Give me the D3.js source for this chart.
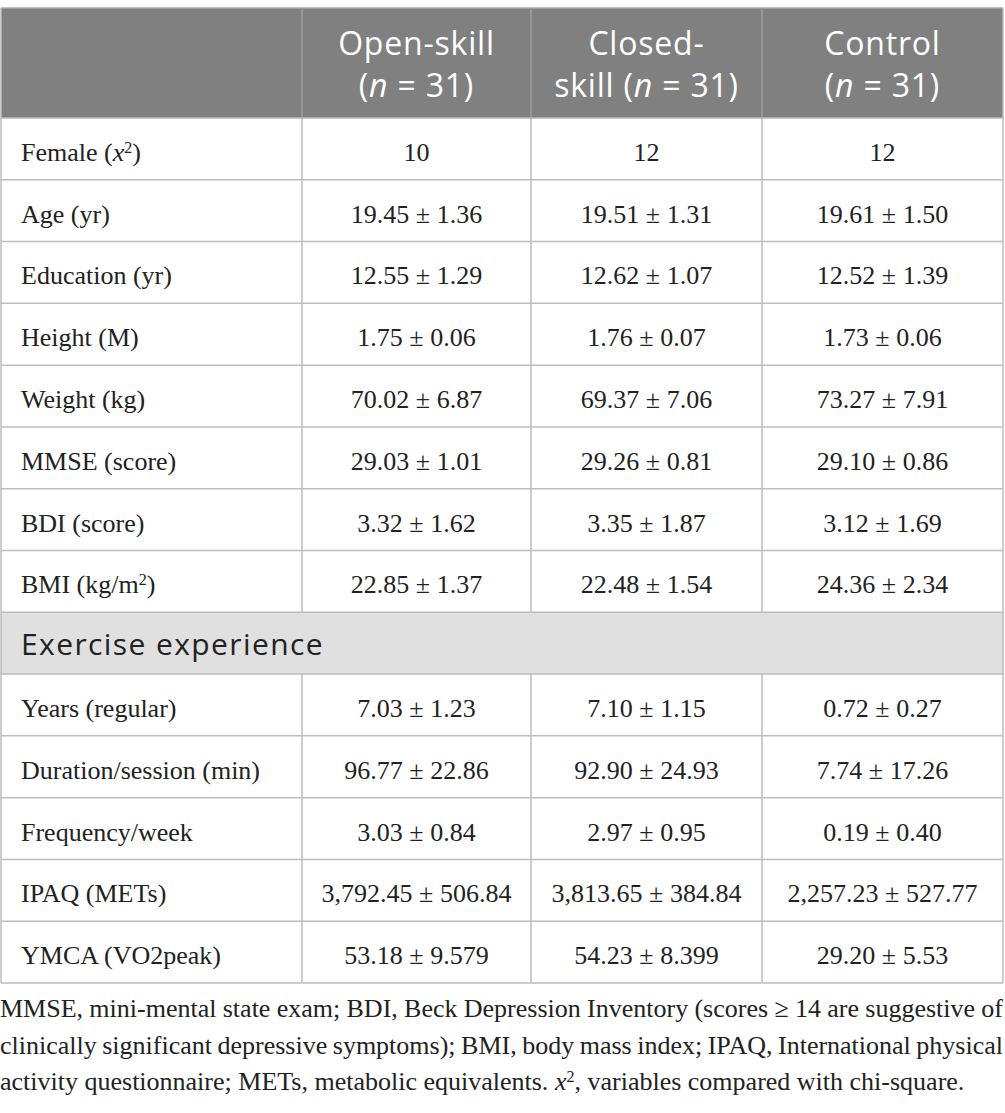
<!DOCTYPE html>
<html>
<head>
<meta charset="utf-8">
<style>
  body { margin: 0; background: #ffffff; }
  svg { display: block; }
</style>
</head>
<body>
<div id="chart"></div>
<script src="https://d3js.org/d3.v7.min.js"></script>
<script>
// Column headers (each one is two lines, <i> marks italic)
var headers = [
    ["Open-skill", "(<i>n</i> = 31)"],
    ["Closed-", "skill (<i>n</i> = 31)"],
    ["Control", "(<i>n</i> = 31)"]
];

// Row labels (rows with null values are section headers)
var variables = [
    "Female (<i>x</i><sup>2</sup>)", "Age (yr)", "Education (yr)", "Height (M)",
    "Weight (kg)", "MMSE (score)", "BDI (score)", "BMI (kg/m<sup>2</sup>)",
    "Exercise experience",
    "Years (regular)", "Duration/session (min)", "Frequency/week",
    "IPAQ (METs)", "YMCA (VO2peak)"
];

var openSkill = ["10", "19.45 ± 1.36", "12.55 ± 1.29", "1.75 ± 0.06", "70.02 ± 6.87",
    "29.03 ± 1.01", "3.32 ± 1.62", "22.85 ± 1.37", null,
    "7.03 ± 1.23", "96.77 ± 22.86", "3.03 ± 0.84", "3,792.45 ± 506.84", "53.18 ± 9.579"];

var closedSkill = ["12", "19.51 ± 1.31", "12.62 ± 1.07", "1.76 ± 0.07", "69.37 ± 7.06",
    "29.26 ± 0.81", "3.35 ± 1.87", "22.48 ± 1.54", null,
    "7.10 ± 1.15", "92.90 ± 24.93", "2.97 ± 0.95", "3,813.65 ± 384.84", "54.23 ± 8.399"];

var control = ["12", "19.61 ± 1.50", "12.52 ± 1.39", "1.73 ± 0.06", "73.27 ± 7.91",
    "29.10 ± 0.86", "3.12 ± 1.69", "24.36 ± 2.34", null,
    "0.72 ± 0.27", "7.74 ± 17.26", "0.19 ± 0.40", "2,257.23 ± 527.77", "29.20 ± 5.53"];

var footnote = [
    "MMSE, mini-mental state exam; BDI, Beck Depression Inventory (scores ≥ 14 are suggestive of",
    "clinically significant depressive symptoms); BMI, body mass index; IPAQ, International physical",
    "activity questionnaire; METs, metabolic equivalents. <i>x</i><sup>2</sup>, variables compared with chi-square."
];

var width = 1005, height = 1113;
var serif = "'Liberation Serif', 'Times New Roman', serif";
var sans = "'Open Sans', Lato, sans-serif";
var lineColor = "#bdbdbd";

var svg = d3.select("#chart")
    .append("svg")
    .attr("width", width)
    .attr("height", height);

// column edges
var colEdges = [1, 302, 531, 762, 1003];
var tableTop = 8, headerBottom = 118, tableBottom = 983;

var y = d3.scaleBand()
    .domain(d3.range(variables.length))
    .range([headerBottom, tableBottom]);

var valueCols = [openSkill, closedSkill, control];

// write a string with <i> and <sup> into a text element
function rich(sel, str, size) {
    var parts = str.split(/(<i>.*?<\/i>|<sup>.*?<\/sup>)/);
    parts.forEach(function(p) {
        if (p === "") return;
        var t = sel.append("tspan");
        if (p.indexOf("<i>") === 0) {
            t.text(p.slice(3, -4)).attr("font-style", "italic");
        } else if (p.indexOf("<sup>") === 0) {
            t.text(p.slice(5, -6))
                .attr("font-size", size * 0.62)
                .attr("baseline-shift", "super");
        } else {
            t.text(p);
        }
    });
}

// header background
svg.append("rect")
    .attr("x", colEdges[0])
    .attr("y", tableTop)
    .attr("width", colEdges[4] - colEdges[0])
    .attr("height", headerBottom - tableTop)
    .attr("fill", "#808080");

// section rows background
svg.selectAll("rect.section")
    .data(d3.range(variables.length).filter(function(i) { return openSkill[i] === null; }))
    .enter()
    .append("rect")
    .attr("class", "section")
    .attr("x", colEdges[0])
    .attr("y", function(i) { return y(i); })
    .attr("width", colEdges[4] - colEdges[0])
    .attr("height", y.bandwidth())
    .attr("fill", "#e1e0e1");

// horizontal lines
var hLines = [tableTop, headerBottom].concat(d3.range(variables.length).map(function(i) {
    return y(i) + y.bandwidth();
}));
svg.selectAll("line.h")
    .data(hLines)
    .enter()
    .append("line")
    .attr("x1", colEdges[0]).attr("x2", colEdges[4])
    .attr("y1", function(d) { return d; }).attr("y2", function(d) { return d; })
    .attr("stroke", function(d, i) { return i === 0 ? "#a8a8a8" : lineColor; })
    .attr("stroke-width", 1.5);

// vertical lines (inner ones stop at section rows)
colEdges.forEach(function(x, c) {
    var segs = [];
    if (c === 0 || c === 4) {
        segs.push([tableTop, tableBottom]);
    } else {
        segs.push([tableTop, headerBottom]);
        var start = headerBottom;
        variables.forEach(function(v, i) {
            if (openSkill[i] === null) {
                segs.push([start, y(i)]);
                start = y(i) + y.bandwidth();
            }
        });
        segs.push([start, tableBottom]);
    }
    segs.forEach(function(s, k) {
        svg.append("line")
            .attr("x1", x).attr("x2", x)
            .attr("y1", s[0]).attr("y2", s[1])
            .attr("stroke", (k === 0 && c > 0 && c < 4) ? "#a0a0a0" : lineColor)
            .attr("stroke-width", 1.5);
    });
});

// header text
headers.forEach(function(lines, c) {
    var cx = (colEdges[c + 1] + colEdges[c + 2]) / 2;
    lines.forEach(function(l, k) {
        var t = svg.append("text")
            .attr("x", cx)
            .attr("y", 55 + k * 42)
            .attr("text-anchor", "middle")
            .attr("font-family", sans)
            .attr("font-size", 32)
            .attr("letter-spacing", 0.8)
            .attr("fill", "#ffffff");
        rich(t, l, 32);
    });
});

// row labels
variables.forEach(function(v, i) {
    var isSection = openSkill[i] === null;
    var t = svg.append("text")
        .attr("x", 21)
        .attr("y", y(i) + y.bandwidth() / 2 + 12)
        .attr("font-family", isSection ? sans : serif)
        .attr("font-size", isSection ? 30 : 26)
        .attr("letter-spacing", isSection ? 1.4 : 0)
        .attr("fill", "#222222");
    rich(t, v, 26);
});

// values
valueCols.forEach(function(col, c) {
    var cx = (colEdges[c + 1] + colEdges[c + 2]) / 2;
    var cells = col.map(function(d, i) { return {v: d, row: i}; })
        .filter(function(d) { return d.v !== null; });
    svg.selectAll("text.v" + c)
        .data(cells)
        .enter()
        .append("text")
        .attr("class", "v" + c)
        .attr("x", cx)
        .attr("y", function(d) { return y(d.row) + y.bandwidth() / 2 + 12; })
        .attr("text-anchor", "middle")
        .attr("font-family", serif)
        .attr("font-size", 26)
        .attr("fill", "#222222")
        .text(function(d) { return d.v; });
});

// footnote, first two lines fitted to the full width
footnote.forEach(function(l, k) {
    var t = svg.append("text")
        .attr("x", 0)
        .attr("y", 1017 + k * 36.5)
        .attr("font-family", serif)
        .attr("font-size", 26)
        .attr("fill", "#222222");
    rich(t, l, 26);
    if (k < 2) {
        var len = t.node().getComputedTextLength();
        var spaces = l.split(" ").length - 1;
        t.attr("word-spacing", (1003 - len) / spaces);
    }
});
</script>
</body>
</html>
